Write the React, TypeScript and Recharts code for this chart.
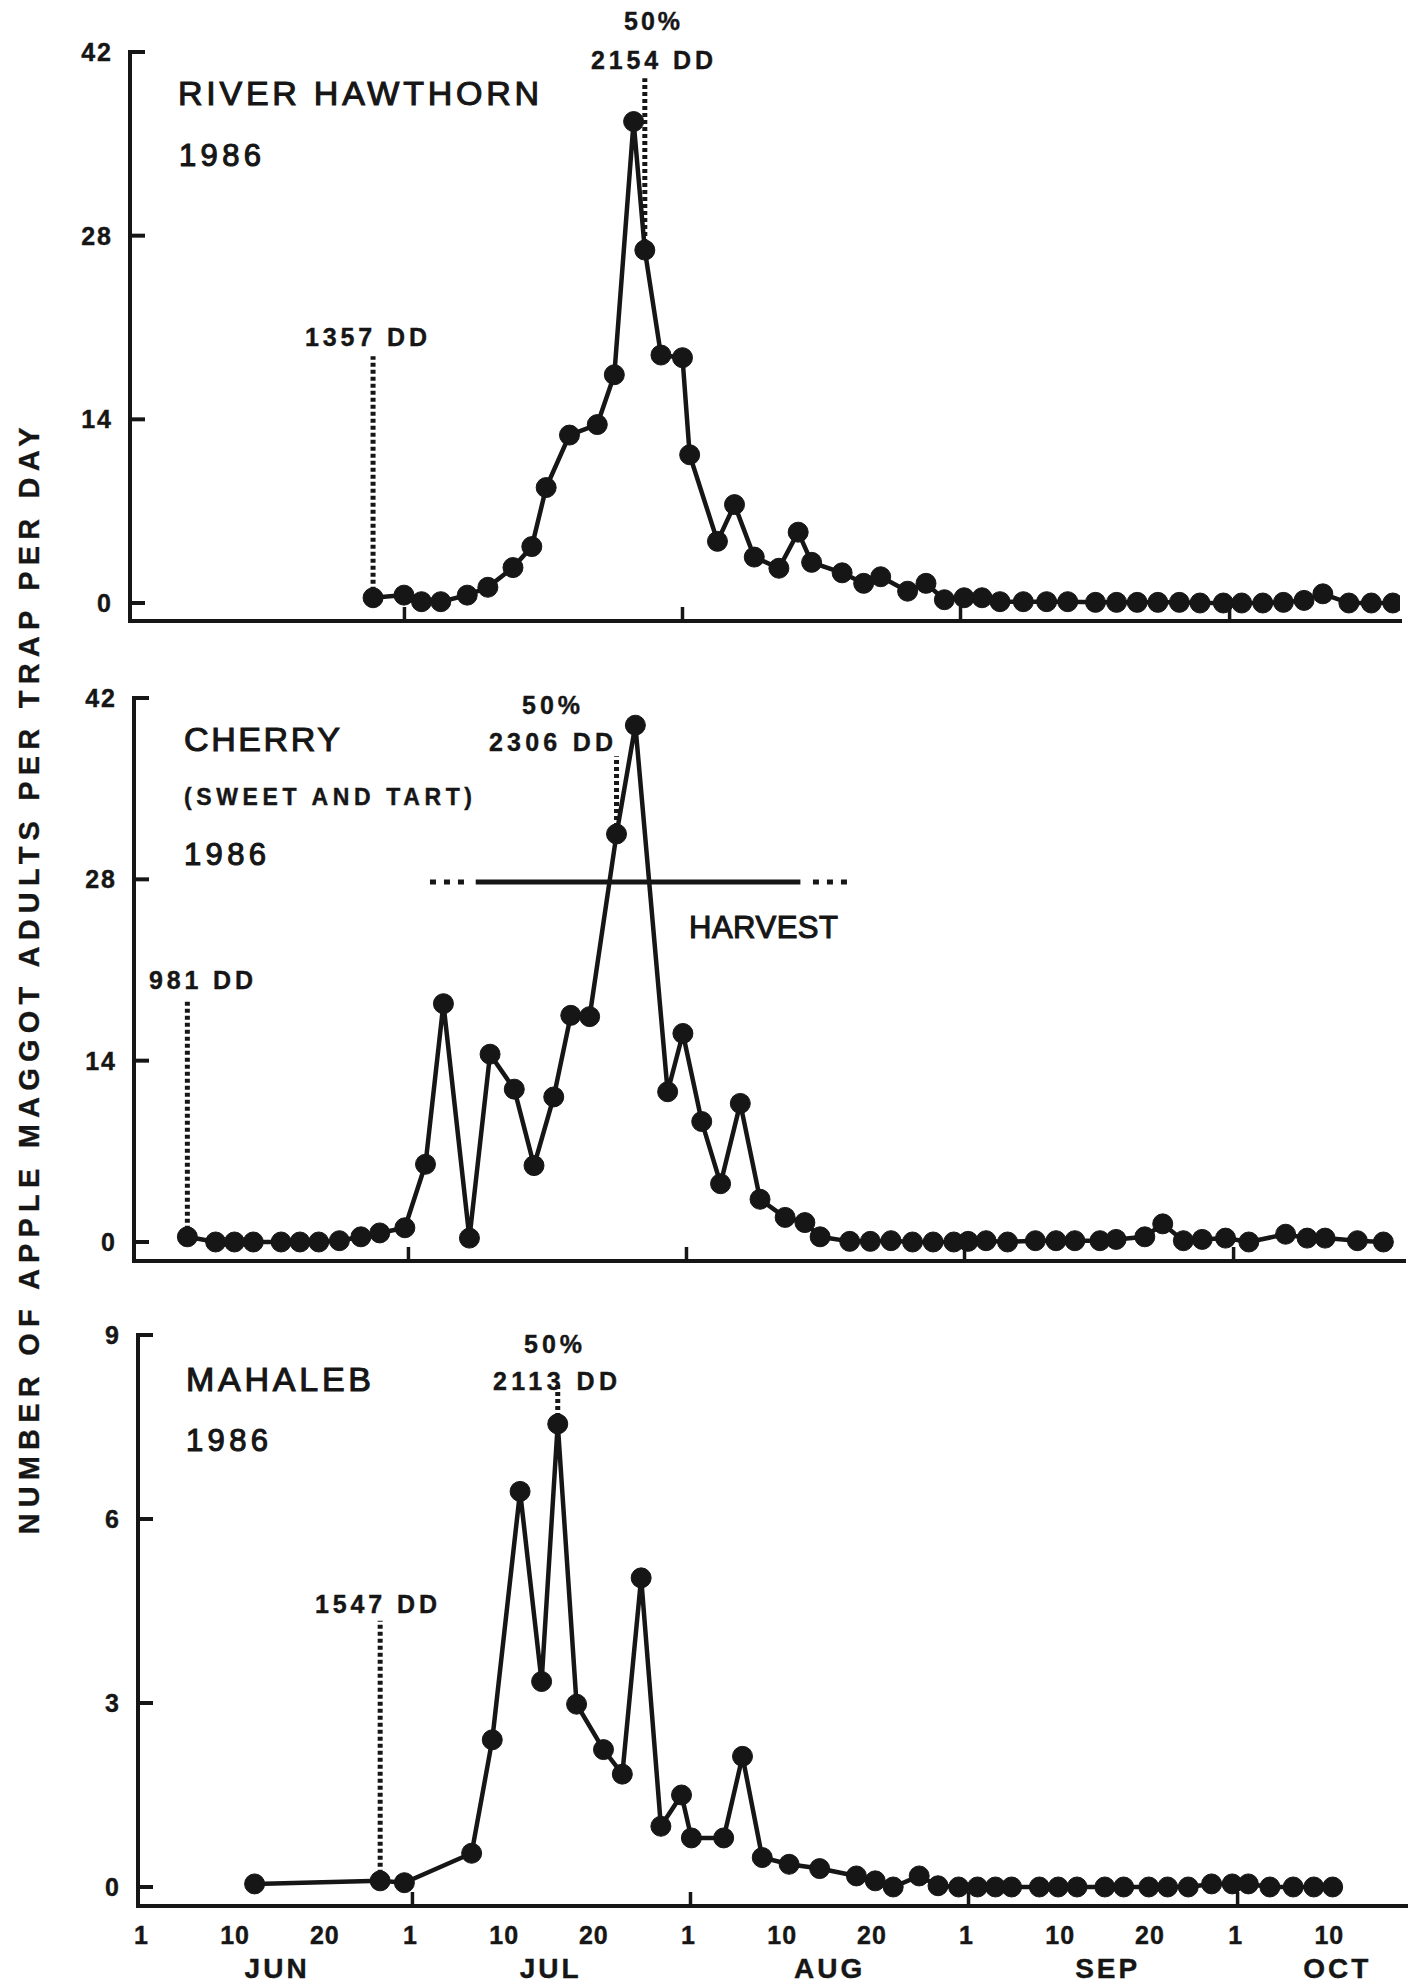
import React from 'react';
import { LineChart, Line, XAxis, YAxis, ReferenceLine } from 'recharts';

const INK = '#161616';
const FONT = '"Liberation Sans", Arial, Helvetica, sans-serif';

// Day numbering for 1986: 1 = June 1, 31 = July 1, 62 = Aug 1, 93 = Sep 1, 123 = Oct 1
const xDomain: [number, number] = [0.4, 142];
const dayTicks = [1, 10, 20, 31, 40, 50, 62, 71, 81, 93, 102, 112, 123, 132];
const dayTickLabels = ['1', '10', '20', '1', '10', '20', '1', '10', '20', '1', '10', '20', '1', '10'];
const monthStartDays = [31, 62, 93, 123];
const monthLabelDays = [15.8, 46.3, 77.4, 108.4, 134];
const monthLabels = ['JUN', 'JUL', 'AUG', 'SEP', 'OCT'];

const bigTicks = [0, 14, 28, 42];
const smallTicks = [0, 3, 6, 9];

// RIVER HAWTHORN
const hawthornDays = [27.5, 30.95, 32.9, 35.05, 38.0, 40.3, 43.1, 45.2, 46.8, 49.4, 52.5, 54.4, 56.55, 57.8, 59.6, 62.0, 62.8, 65.9, 67.8, 70.0, 72.75, 74.9, 76.4, 79.8, 82.2, 84.1, 87.1, 89.15, 91.2, 93.4, 95.4, 97.4, 100.0, 102.6, 104.95, 108.05, 110.4, 112.7, 115.0, 117.4, 119.7, 122.3, 124.35, 126.7, 129.0, 131.3, 133.4, 136.3, 138.8, 141.2];
const hawthornValues = [0.4, 0.6, 0.1, 0.1, 0.6, 1.2, 2.7, 4.3, 8.8, 12.8, 13.6, 17.4, 36.7, 26.9, 18.9, 18.7, 11.3, 4.7, 7.5, 3.5, 2.65, 5.4, 3.1, 2.3, 1.5, 2.0, 0.9, 1.5, 0.25, 0.4, 0.4, 0.1, 0.1, 0.1, 0.1, 0.05, 0.05, 0.05, 0.05, 0.05, 0.0, 0.0, 0.0, 0.0, 0.05, 0.2, 0.7, 0.0, 0.0, 0.0];

// CHERRY (SWEET AND TART)
const cherryDays = [6.35, 9.5, 11.6, 13.7, 16.8, 18.9, 21.0, 23.3, 25.7, 27.8, 30.6, 32.9, 34.9, 37.8, 40.1, 42.8, 45.0, 47.2, 49.1, 51.2, 54.2, 56.3, 59.9, 61.6, 63.7, 65.8, 68.0, 70.2, 73.0, 75.2, 76.9, 80.2, 82.5, 84.8, 87.2, 89.5, 91.8, 93.4, 95.4, 97.8, 100.9, 103.2, 105.3, 108.1, 109.9, 113.1, 115.1, 117.4, 119.5, 122.1, 124.7, 128.8, 131.2, 133.2, 136.8, 139.7];
const cherryValues = [0.4, 0, 0, 0, 0, 0, 0, 0.1, 0.4, 0.7, 1.1, 6.0, 18.4, 0.3, 14.5, 11.8, 5.9, 11.2, 17.5, 17.4, 31.5, 39.9, 11.6, 16.1, 9.3, 4.5, 10.7, 3.3, 1.9, 1.5, 0.4, 0.05, 0.05, 0.1, 0.0, 0.0, 0.0, 0.05, 0.1, 0.0, 0.1, 0.1, 0.1, 0.1, 0.2, 0.4, 1.4, 0.1, 0.2, 0.3, 0.0, 0.6, 0.3, 0.3, 0.1, 0.0];

// MAHALEB
const mahalebDays = [13.4, 27.4, 30.1, 37.6, 39.9, 43.0, 45.4, 47.2, 49.3, 52.3, 54.4, 56.5, 58.7, 61.0, 62.1, 65.7, 67.8, 70.0, 73.0, 76.4, 80.5, 82.6, 84.6, 87.5, 89.6, 91.9, 94.0, 96.0, 97.8, 100.9, 103.0, 105.1, 108.2, 110.3, 113.1, 115.2, 117.5, 120.1, 122.4, 124.2, 126.6, 129.2, 131.5, 133.6];
const mahalebValues = [0.05, 0.1, 0.07, 0.55, 2.4, 6.45, 3.35, 7.55, 2.98, 2.24, 1.84, 5.04, 0.99, 1.5, 0.8, 0.8, 2.13, 0.48, 0.37, 0.3, 0.18, 0.1, 0.0, 0.18, 0.02, 0.0, 0.0, 0.0, 0.0, 0.0, 0.0, 0.0, 0.0, 0.0, 0.0, 0.0, 0.0, 0.05, 0.05, 0.05, 0.0, 0.0, 0.0, 0.0];

// annotation levels (data units)
const hawthornFirstTop = 18.8;
const hawthornHalfIndex = 13;
const hawthornHalfTop = 40;
const cherryFirstTop = 18.7;
const cherryHalfIndex = 20;
const cherryHalfTop = 37.5;
const mahalebFirstTop = 4.34;
const mahalebHalfIndex = 7;
const mahalebHalfTop = 8.2;
const harvestLevel = 27.8;
const harvestSolid = [38.5, 74.7];
const harvestDotsLeft = [33.4, 37.4];
const harvestDotsRight = [76.1, 80.3];

const MonthTickMark = (props: any) => {
  const { x, y } = props;
  return <line x1={x} x2={x} y1={y} y2={y - 14} stroke={INK} strokeWidth={3.5} />;
};

const DayTick = (props: any) => {
  const { x, y, payload } = props;
  const v = payload.value;
  const label = dayTickLabels[dayTicks.indexOf(v)];
  const isStart = monthStartDays.includes(v);
  const dx = label === '1' ? -2 : 11;
  return (
    <g>
      {isStart && <line x1={x} x2={x} y1={y} y2={y - 14} stroke={INK} strokeWidth={3.5} />}
      <text x={x + dx} y={y + 38} textAnchor="middle" fontSize={25} fontWeight={700} letterSpacing={1} fill={INK} stroke={INK} strokeWidth={0.4} fontFamily={FONT}>
        {label}
      </text>
    </g>
  );
};

const MonthNameTick = (props: any) => {
  const { x, y, payload } = props;
  const label = monthLabels[monthLabelDays.indexOf(payload.value)];
  return (
    <text x={x + 1} y={y + 32} textAnchor="middle" fontSize={28} fontWeight={700} letterSpacing={3} fill={INK} stroke={INK} strokeWidth={0.4} fontFamily={FONT}>
      {label}
    </text>
  );
};

const YTick = (props: any) => {
  const { x, y, payload } = props;
  return (
    <g>
      <line x1={x} x2={x + 15} y1={y} y2={y} stroke={INK} strokeWidth={4} />
      <text x={x - 17} y={y + 9} textAnchor="end" fontSize={25} fontWeight={700} letterSpacing={2} fill={INK} stroke={INK} strokeWidth={0.4} fontFamily={FONT}>
        {payload.value}
      </text>
    </g>
  );
};

type PanelProps = {
  days: number[];
  values: number[];
  axisX: number;
  plotTop: number;
  plotBottom: number;
  rightEnd: number;
  yDomain: [number, number];
  yTicks: number[];
  bottom?: boolean;
  refs: React.ReactNode[];
};

function Panel({ days, values, axisX, plotTop, plotBottom, rightEnd, yDomain, yTicks, bottom, refs }: PanelProps) {
  const data = days.map((d, i) => ({ day: d, value: values[i] }));
  const yAxisW = 60;
  const xAxisH = bottom ? 40 : 10;
  const monthAxisH = bottom ? 39 : 0;
  const height = plotBottom + xAxisH + monthAxisH;
  const axisLine = { stroke: INK, strokeWidth: 4, strokeLinecap: 'square' as const };
  return (
    <div style={{ position: 'absolute', left: 0, top: 0 }}>
      <LineChart
        width={1408}
        height={height}
        data={data}
        margin={{ top: plotTop, left: axisX - yAxisW, right: 1408 - rightEnd, bottom: 0 }}
      >
        <XAxis
          type="number"
          dataKey="day"
          domain={xDomain}
          allowDataOverflow
          ticks={bottom ? dayTicks : monthStartDays}
          interval={0}
          tickLine={false}
          tickSize={0}
          tickMargin={0}
          height={xAxisH}
          axisLine={axisLine}
          tick={bottom ? DayTick : MonthTickMark}
        />
        {bottom && (
          <XAxis
            xAxisId="m"
            type="number"
            dataKey="day"
            domain={xDomain}
            allowDataOverflow
            ticks={monthLabelDays}
            interval={0}
            tickLine={false}
            axisLine={false}
            tickSize={0}
            tickMargin={0}
            height={monthAxisH}
            tick={MonthNameTick}
          />
        )}
        <YAxis
          type="number"
          domain={yDomain}
          allowDataOverflow
          ticks={yTicks}
          interval={0}
          width={yAxisW}
          tickLine={false}
          tickSize={0}
          tickMargin={0}
          axisLine={axisLine}
          tick={YTick}
        />
        {refs}
        <Line
          dataKey="value"
          type="linear"
          stroke={INK}
          strokeWidth={4.5}
          dot={{ r: 10, fill: INK, stroke: INK, strokeWidth: 1 }}
          isAnimationActive={false}
        />
      </LineChart>
    </div>
  );
}

function vline(key: string, x: number, y1: number, y2: number) {
  return (
    <ReferenceLine
      key={key}
      segment={[{ x, y: y1 }, { x, y: y2 }]}
      stroke={INK}
      strokeWidth={5}
      strokeDasharray="4 3"
      ifOverflow="visible"
    />
  );
}

type TxtProps = { x: number; y: number; size: number; bold?: boolean; anchor?: 'start' | 'middle' | 'end'; len?: number; sw?: number; children: React.ReactNode };
const Txt = ({ x, y, size, bold, anchor = 'start', len, sw, children }: TxtProps) => (
  <text
    x={x}
    y={y}
    fontSize={size}
    fontWeight={bold ? 700 : 400}
    textAnchor={anchor}
    textLength={len}
    lengthAdjust={len ? 'spacing' : undefined}
    fill={INK}
    stroke={INK}
    strokeWidth={sw ?? (bold ? 0.4 : 1.1)}
    fontFamily={FONT}
  >
    {children}
  </text>
);

export default function App() {
  const hawthornRefs = [
    vline('h1', hawthornDays[0], hawthornValues[0], hawthornFirstTop),
    vline('h2', hawthornDays[hawthornHalfIndex], hawthornValues[hawthornHalfIndex], hawthornHalfTop),
  ];
  const cherryRefs = [
    vline('c1', cherryDays[0], cherryValues[0], cherryFirstTop),
    vline('c2', cherryDays[cherryHalfIndex], cherryValues[cherryHalfIndex], cherryHalfTop),
    <ReferenceLine
      key="hs"
      segment={[{ x: harvestSolid[0], y: harvestLevel }, { x: harvestSolid[1], y: harvestLevel }]}
      stroke={INK}
      strokeWidth={5}
      ifOverflow="visible"
    />,
    <ReferenceLine
      key="hl"
      segment={[{ x: harvestDotsLeft[0], y: harvestLevel }, { x: harvestDotsLeft[1], y: harvestLevel }]}
      stroke={INK}
      strokeWidth={5}
      strokeDasharray="6 8"
      ifOverflow="visible"
    />,
    <ReferenceLine
      key="hr"
      segment={[{ x: harvestDotsRight[0], y: harvestLevel }, { x: harvestDotsRight[1], y: harvestLevel }]}
      stroke={INK}
      strokeWidth={5}
      strokeDasharray="6 8"
      ifOverflow="visible"
    />,
  ];
  const mahalebRefs = [
    vline('m1', mahalebDays[1], mahalebValues[1], mahalebFirstTop),
    vline('m2', mahalebDays[mahalebHalfIndex], mahalebValues[mahalebHalfIndex], mahalebHalfTop),
  ];

  return (
    <div style={{ position: 'absolute', left: 0, top: 0, width: 1408, height: 1985, background: '#ffffff', overflow: 'hidden' }}>
      <Panel
        days={hawthornDays}
        values={hawthornValues}
        axisX={130}
        plotTop={52}
        plotBottom={621}
        rightEnd={1400}
        yDomain={[-1.372, 42]}
        yTicks={bigTicks}
        refs={hawthornRefs}
      />
      <Panel
        days={cherryDays}
        values={cherryValues}
        axisX={134}
        plotTop={698}
        plotBottom={1261}
        rightEnd={1404}
        yDomain={[-1.467, 42]}
        yTicks={bigTicks}
        refs={cherryRefs}
      />
      <Panel
        days={mahalebDays}
        values={mahalebValues}
        axisX={138}
        plotTop={1335}
        plotBottom={1906}
        rightEnd={1408}
        yDomain={[-0.31, 9]}
        yTicks={smallTicks}
        bottom
        refs={mahalebRefs}
      />
      <svg width={1408} height={1985} style={{ position: 'absolute', left: 0, top: 0, pointerEvents: 'none' }}>
        <text
          x={39}
          y={981}
          transform="rotate(-90 39 981)"
          textAnchor="middle"
          fontSize={29}
          fontWeight={700}
          textLength={1107}
          lengthAdjust="spacing"
          fill={INK}
          stroke={INK}
          strokeWidth={0.3}
          fontFamily={FONT}
        >
          NUMBER OF APPLE MAGGOT ADULTS PER TRAP PER DAY
        </text>

        {/* River hawthorn */}
        <Txt x={178} y={105} size={34} len={361}>RIVER HAWTHORN</Txt>
        <Txt x={179} y={166} size={31} len={82}>1986</Txt>
        <Txt x={366} y={346} size={25} bold anchor="middle" len={122}>1357 DD</Txt>
        <Txt x={652} y={30} size={25} bold anchor="middle" len={56}>50%</Txt>
        <Txt x={652} y={69} size={25} bold anchor="middle" len={122}>2154 DD</Txt>

        {/* Cherry */}
        <Txt x={184} y={751} size={34} len={156}>CHERRY</Txt>
        <Txt x={184} y={805} size={23} bold len={288}>(SWEET AND TART)</Txt>
        <Txt x={184} y={865} size={31} len={82}>1986</Txt>
        <Txt x={551} y={714} size={25} bold anchor="middle" len={58}>50%</Txt>
        <Txt x={551} y={751} size={25} bold anchor="middle" len={124}>2306 DD</Txt>
        <Txt x={201} y={989} size={25} bold anchor="middle" len={104}>981 DD</Txt>
        <Txt x={689} y={938} size={31} len={149}>HARVEST</Txt>

        {/* Mahaleb */}
        <Txt x={186} y={1391} size={34} len={185}>MAHALEB</Txt>
        <Txt x={186} y={1451} size={31} len={82}>1986</Txt>
        <Txt x={553} y={1353} size={25} bold anchor="middle" len={58}>50%</Txt>
        <Txt x={555} y={1390} size={25} bold anchor="middle" len={124}>2113 DD</Txt>
        <Txt x={376} y={1613} size={25} bold anchor="middle" len={122}>1547 DD</Txt>
      </svg>
    </div>
  );
}
